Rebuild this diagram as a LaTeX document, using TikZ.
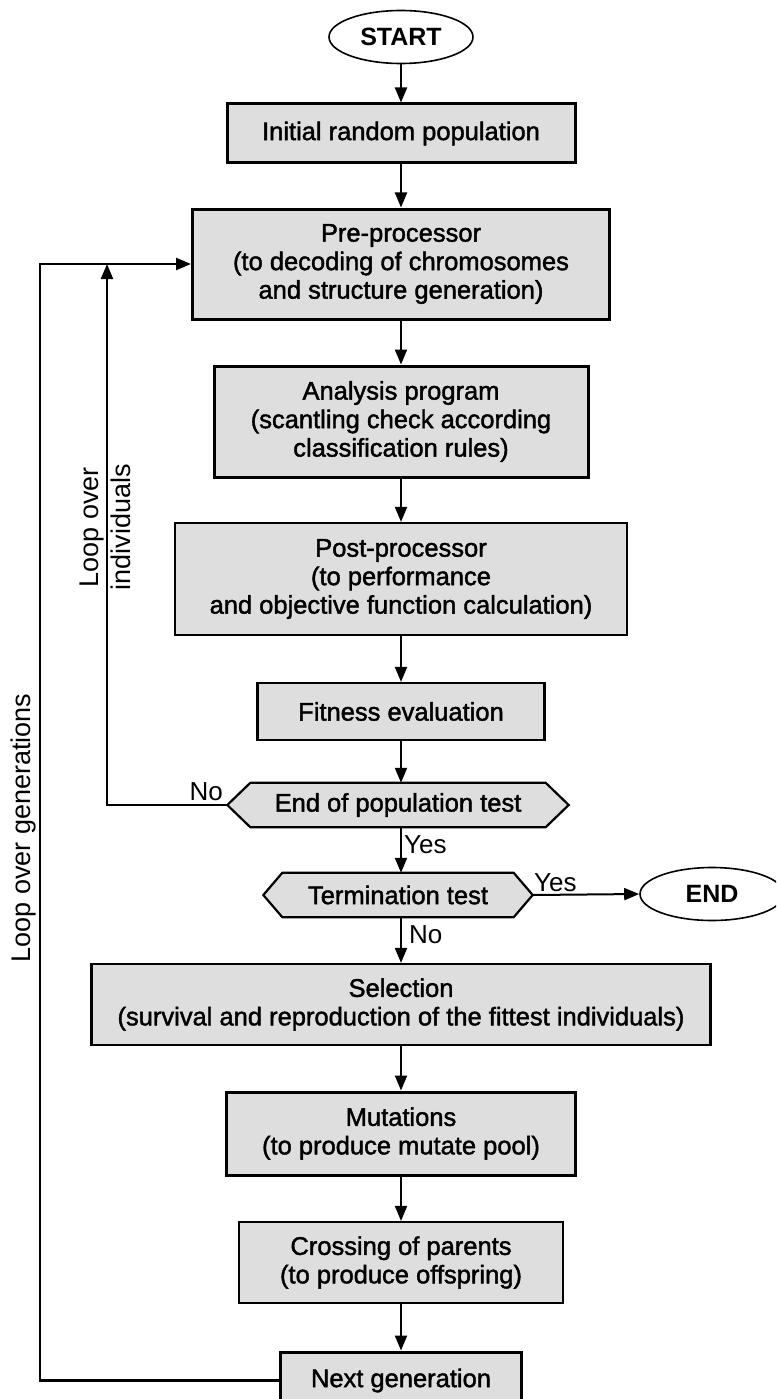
\documentclass[tikz,border=0pt]{standalone}
\usepackage{fontspec}
\setmainfont{Liberation Sans}
\newfontfamily\boxfont{Liberation Sans}[FakeBold=1.6]
\usetikzlibrary{arrows.meta,shapes.geometric}
\pgfdeclarelayer{bg}
\pgfsetlayers{bg,main}
\definecolor{boxfill}{RGB}{222,222,222}
\tikzset{
  box/.style={draw=black, line width=2.2pt, fill=boxfill, inner sep=0pt,
    align=center, font=\boxfont\fontsize{25.5}{28.5}\selectfont},
  heavybox/.style={box, line width=3pt},
  hexnode/.style={inner sep=0pt, minimum height=44pt,
    font=\boxfont\fontsize{25.5}{28.5}\selectfont},
  hexline/.style={draw=black, line width=2.2pt, fill=boxfill, line join=miter},
  terminal/.style={ellipse, draw=black, line width=1.6pt, fill=white, inner sep=0pt,
    minimum width=144pt, minimum height=53pt,
    font=\bfseries\fontsize{25}{28}\selectfont},
  flow/.style={line width=2pt, -{Triangle[length=15pt,width=12pt]}},
  backflow/.style={line width=2.4pt, -{Triangle[length=15pt,width=12pt]}},
  answer/.style={inner sep=0pt, font=\fontsize{26}{28}\selectfont},
  looplabel/.style={inner sep=0pt, rotate=90, align=center,
    font=\fontsize{27}{32}\selectfont}
}
\begin{document}
\begin{tikzpicture}[x=1pt,y=-1pt]
\path[use as bounding box] (0,0) rectangle (776,1399);
\clip (0,0) rectangle (776,1399);

% terminals
\node[terminal] (start) at (401,37) {START};
\node[terminal] (end) at (712,894) {END};

% process boxes
\node[heavybox, minimum width=348pt, minimum height=59pt] (init) at (401,133.5) {Initial random population};
\node[heavybox, minimum width=417pt, minimum height=110pt] (pre) at (401,264)
  {Pre-processor\\(to decoding of chromosomes\\and structure generation)};
\node[heavybox, minimum width=374pt, minimum height=111pt] (ana) at (401,421.5)
  {Analysis program\\(scantling check according\\classification rules)};
\node[box, minimum width=452pt, minimum height=112pt] (post) at (401,579)
  {Post-processor\\(to performance\\and objective function calculation)};
\node[box, minimum width=287pt, minimum height=57pt] (fit) at (401,711.5) {Fitness evaluation};

% decisions (hexagons drawn on the background layer)
\node[hexnode, minimum width=341pt] (endpop) at (398,805) {End of population test};
\node[hexnode, minimum width=269pt] (term) at (398,895) {Termination test};
\begin{pgfonlayer}{bg}
\foreach \n/\c in {endpop/23,term/19}
  \draw[hexline] (\n.west) -- ([xshift=\c pt]\n.north west) -- ([xshift=-\c pt]\n.north east)
    -- (\n.east) -- ([xshift=-\c pt]\n.south east) -- ([xshift=\c pt]\n.south west) -- cycle;
\end{pgfonlayer}

\node[box, minimum width=619pt, minimum height=81pt] (sel) at (401,1004.5)
  {Selection\\(survival and reproduction of the fittest individuals)};
\node[heavybox, minimum width=349pt, minimum height=83pt] (mut) at (401,1133.5)
  {Mutations\\(to produce mutate pool)};
\node[box, minimum width=324pt, minimum height=81pt] (cross) at (401,1262.5)
  {Crossing of parents\\(to produce offspring)};
\node[heavybox, minimum width=241pt, minimum height=57pt] (next) at (401,1380.5) {Next generation};

% main flow
\draw[flow] (start) -- (init);
\draw[flow] (init) -- (pre);
\draw[flow] (pre) -- (ana);
\draw[flow] (ana) -- (post);
\draw[flow] (post) -- (fit);
\draw[flow] (fit.south) -- (fit.south |- endpop.north);
\draw[flow] (endpop.south -| fit.south) -- (term.north -| fit.south);
\draw[flow] (term.south -| fit.south) -- (sel.north);
\draw[flow] (term.east) -- (end.west);
\draw[flow] (sel) -- (mut);
\draw[flow] (mut) -- (cross);
\draw[flow] (cross) -- (next);

% loops back to the pre-processor
\coordinate (outer) at (40,0);
\coordinate (inner) at (107,0);
\draw[backflow] (next.west) -- (next.west -| outer) |- (pre.west);
\draw[flow] (endpop.west) -| (inner |- pre.west);

% answers
\node[answer, anchor=base east] (noA) at (223,800) {No};
\node[answer, anchor=base west] (yesA) at (404,853) {Yes};
\node[answer, anchor=base west] (yesB) at (534,891) {Yes};
\node[answer, anchor=base west] (noB) at (409,943) {No};

% loop labels
\node[looplabel] (lgen) at (24,828) {Loop over generations};
\node[looplabel] (lind) at (105,527) {Loop over\\individuals};
\end{tikzpicture}
\end{document}
